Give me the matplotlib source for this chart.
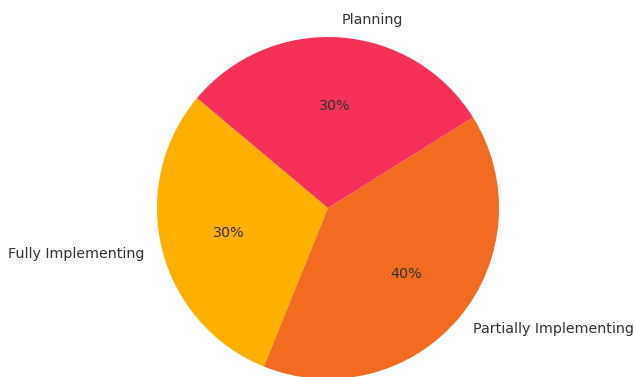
import matplotlib
matplotlib.use("Agg")
import matplotlib.pyplot as plt

# Implementation status shares
categories = ["Fully Implementing", "Partially Implementing", "Planning"]
shares = [30, 40, 30]
colors = ["#FFB000", "#F26B21", "#F5315A"]

W, H, DPI = 634, 377, 100
fig = plt.figure(figsize=(W / DPI, H / DPI), dpi=DPI)

# pie of radius 171 px centred at (328, 208) from the top-left corner
r_px = 171
cx, cy = 328, 208
ax = fig.add_axes([(cx - r_px) / W, (H - cy - r_px) / H, 2 * r_px / W, 2 * r_px / H])
ax.pie(
    shares,
    labels=categories,
    colors=colors,
    autopct="%1.0f%%",
    startangle=140,
    labeldistance=1.105,
    textprops={"color": "#333333", "fontsize": 10.3},
)
ax.set_xlim(-1, 1)
ax.set_ylim(-1, 1)
ax.set_aspect("equal")
ax.axis("off")

fig.savefig("out.png", dpi=DPI)
